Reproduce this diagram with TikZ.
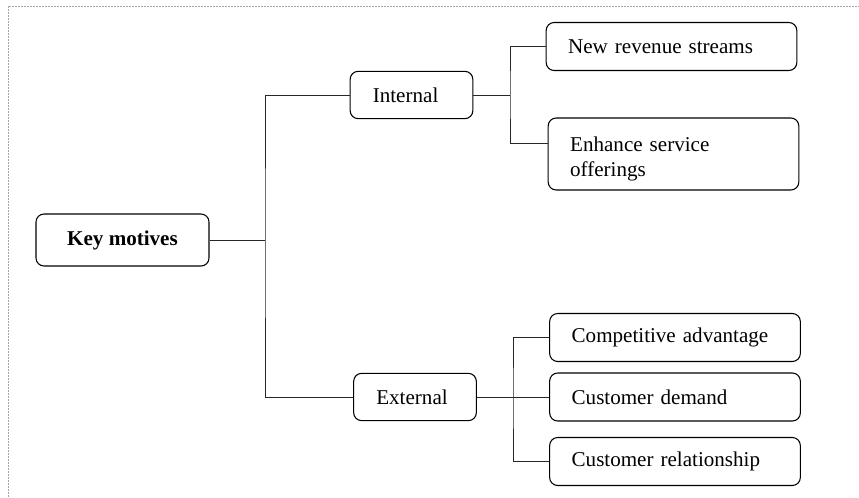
\documentclass[tikz,border=0pt]{standalone}
\usepackage{fontspec}
\setmainfont{Liberation Serif}

\begin{document}
\begin{tikzpicture}[x=0.75pt,y=-0.75pt,
		box/.style={draw, rounded corners=6pt, line width=0.8pt, font=\fontsize{15.8}{18.5}\selectfont},
		root/.style={box, align=center, minimum width=129.75pt, minimum height=39pt, font=\fontsize{15.8}{18.5}\selectfont\bfseries},
		branch/.style={box, align=left, text width=58pt, inner xsep=17pt, minimum height=35.5pt},
		leaf/.style={box, align=left, text width=155pt, inner xsep=16.5pt, minimum height=36pt},
		link/.style={line width=0.75pt, draw=black!85},
		frame/.style={draw=gray!70, line width=0.75pt, dash pattern=on 1.5pt off 0.75pt}]
		\def\leafX{675} % x of the leaf column
		
		% Page size and the dashed frame
		\useasboundingbox (0,0) rectangle (859,497);
		\draw[frame] (8,497) |- (859,6);
		
		% Root and the two groups
		\node[root] (km) at (122.5,240) {Key motives};
		\node[branch] (int) at (411.5,95) {Internal};
		\node[branch] (ext) at (415,397) {External};
		
		% Internal motives
		\node[leaf] (nrs) at (671.5,46.5) {New revenue streams};
		\node[leaf, minimum height=54pt] (eso) at (673.5,154) {\rule{0pt}{18pt}Enhance service\\offerings};
		
		% External motives
		\foreach \name/\ypos/\txt in {cad/337.5/Competitive advantage, cdm/397/Customer demand, crl/461.5/Customer relationship} {
			\node[leaf] (\name) at (\leafX,\ypos) {\txt};
		}
		
		% Connectors
		\coordinate (spine) at (265,240);
		\coordinate (ib) at (510,95);
		\coordinate (eb) at (513,397);
		\draw[link] (km.east) -- (spine);
		\draw[link] (int.west) -| (spine) |- (ext.west);
		\draw[link] (int.east) -- (ib);
		\draw[link] (nrs.west) -| (ib) |- ([yshift=8.25pt]eso.west);
		\draw[link] (ext.east) -- (eb) -- (cdm.west);
		\draw[link] (cad.west) -| (eb) |- (crl.west);
	\end{tikzpicture}
\end{document}
